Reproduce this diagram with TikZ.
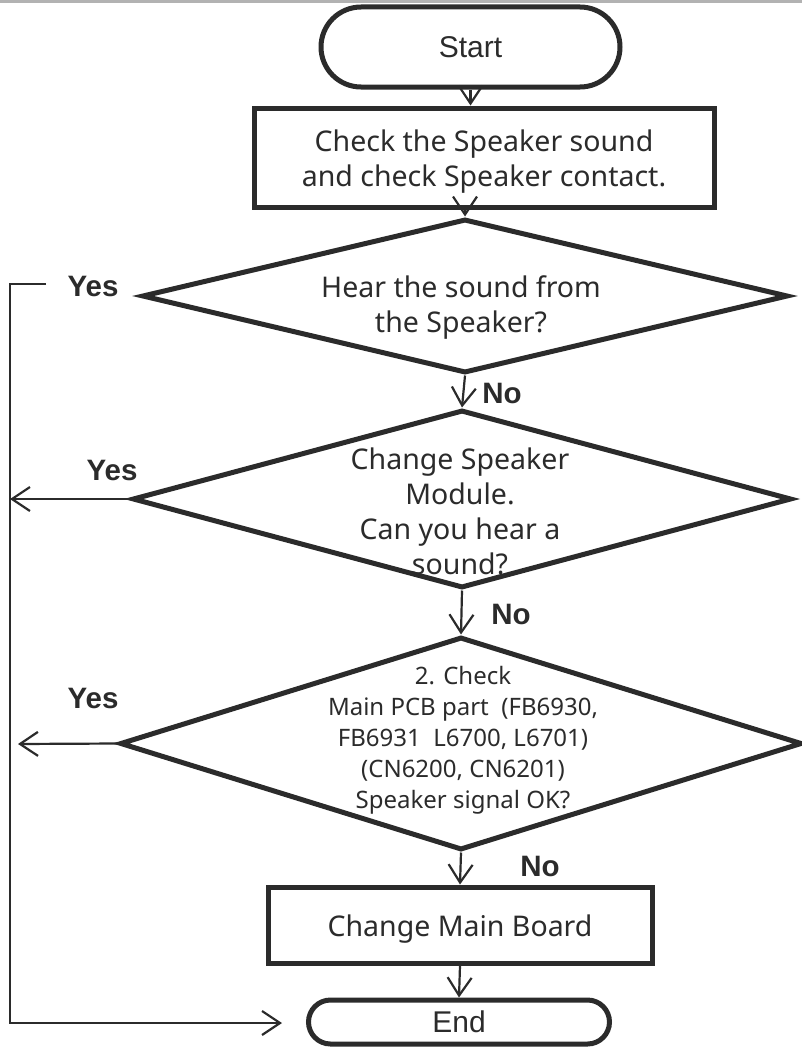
\documentclass[tikz,border=0pt]{standalone}
\usepackage{fontspec}
\setmainfont{Noto Sans}
\newfontfamily\labelfont{Liberation Sans}
\usetikzlibrary{arrows.meta, shapes.geometric}
\definecolor{ink}{HTML}{2B2B2B}

\begin{document}
\begin{tikzpicture}[x=1pt, y=-1pt,
    shape line/.style={draw=ink, line width=5pt, inner sep=0pt, text=ink},
    term/.style={shape line, rectangle, rounded corners=#1,
                 font=\labelfont\fontsize{30}{34}\selectfont},
    procbox/.style={shape line, rectangle},
    decision/.style={shape line, diamond},
    qtext/.style={align=center, text=ink, inner sep=0pt, font=\fontsize{28.5}{35}\selectfont},
    flow/.style={draw=ink, line width=2.2pt, -{Straight Barb[length=18pt, width=24pt]}},
    answer/.style={text=ink, font=\labelfont\bfseries\fontsize{29.5}{32}\selectfont}]

  \useasboundingbox (0,0) rectangle (802,1049);
  \draw[gray!60, line width=3pt] (0,1.5) -- (802,1.5);

  % main column
  \node[term=40pt, minimum width=299pt, minimum height=80pt] (start) at (470.5,47) {Start};
  \node[procbox, minimum width=460pt, minimum height=99pt] (check) at (484,157.5) {};
  \node[qtext] (checkq) at (484,162)
    {Check the Speaker sound\\and check Speaker contact.};

  \node[decision, minimum width=646pt, minimum height=154pt] (hear) at (465,296) {};
  \node[qtext] (hearq) at (461,308)
    {Hear the sound from\\the Speaker?};

  \node[decision, minimum width=659pt, minimum height=178pt] (module) at (462,499) {};
  \node[qtext] (moduleq) at (460,511)
    {Change Speaker\\Module.\\Can you hear a\\sound?};

  \node[decision, minimum width=682pt, minimum height=213pt] (signal) at (461,743.5) {};
  \node[qtext, font=\fontsize{24}{31}\selectfont] (signalq) at (463,740)
    {2. Check\\Main PCB part~~(FB6930,\\FB6931~~L6700, L6701)\\(CN6200, CN6201)\\Speaker signal OK?};

  \node[procbox, minimum width=384pt, minimum height=76pt] (board) at (460,925) {};
  \node[qtext] (boardq) at (460,929) {Change Main Board};
  \node[term=22pt, minimum width=301pt, minimum height=44pt] (end) at (459,1022) {End};

  % answers
  \node[answer] (yes1) at (93,286) {Yes};
  \node[answer] (yes2) at (112,470) {Yes};
  \node[answer] (yes3) at (93,698) {Yes};
  \node[answer] (no1) at (502,393) {No};
  \node[answer] (no2) at (511,614) {No};
  \node[answer] (no3) at (540,866) {No};

  \coordinate (yes1 end) at (46,284);
  \coordinate (rail top) at (10,284);
  \coordinate (rail bottom) at (10,1023);
  \coordinate (into end) at (282,1023);
  \coordinate (yes3 tip) at (18,744);

  \draw[flow] (start.south) -- (start.south |- check.north);
  \draw[flow] (hear.north |- check.south) -- (hear.north);
  \draw[flow] (hear.south) -- (module.north);
  \draw[flow] (module.south) -- (signal.north);
  \draw[flow] (signal.south) -- (board.north);
  \draw[flow] (board.south) -- (end.north);

  % yes branches
  \draw[flow] (yes1 end) -- (rail top) -- (rail bottom) -- (into end);
  \draw[flow] (module.west) -- (module.west -| rail top);
  \draw[flow] (signal.west) -- (yes3 tip);
\end{tikzpicture}
\end{document}
